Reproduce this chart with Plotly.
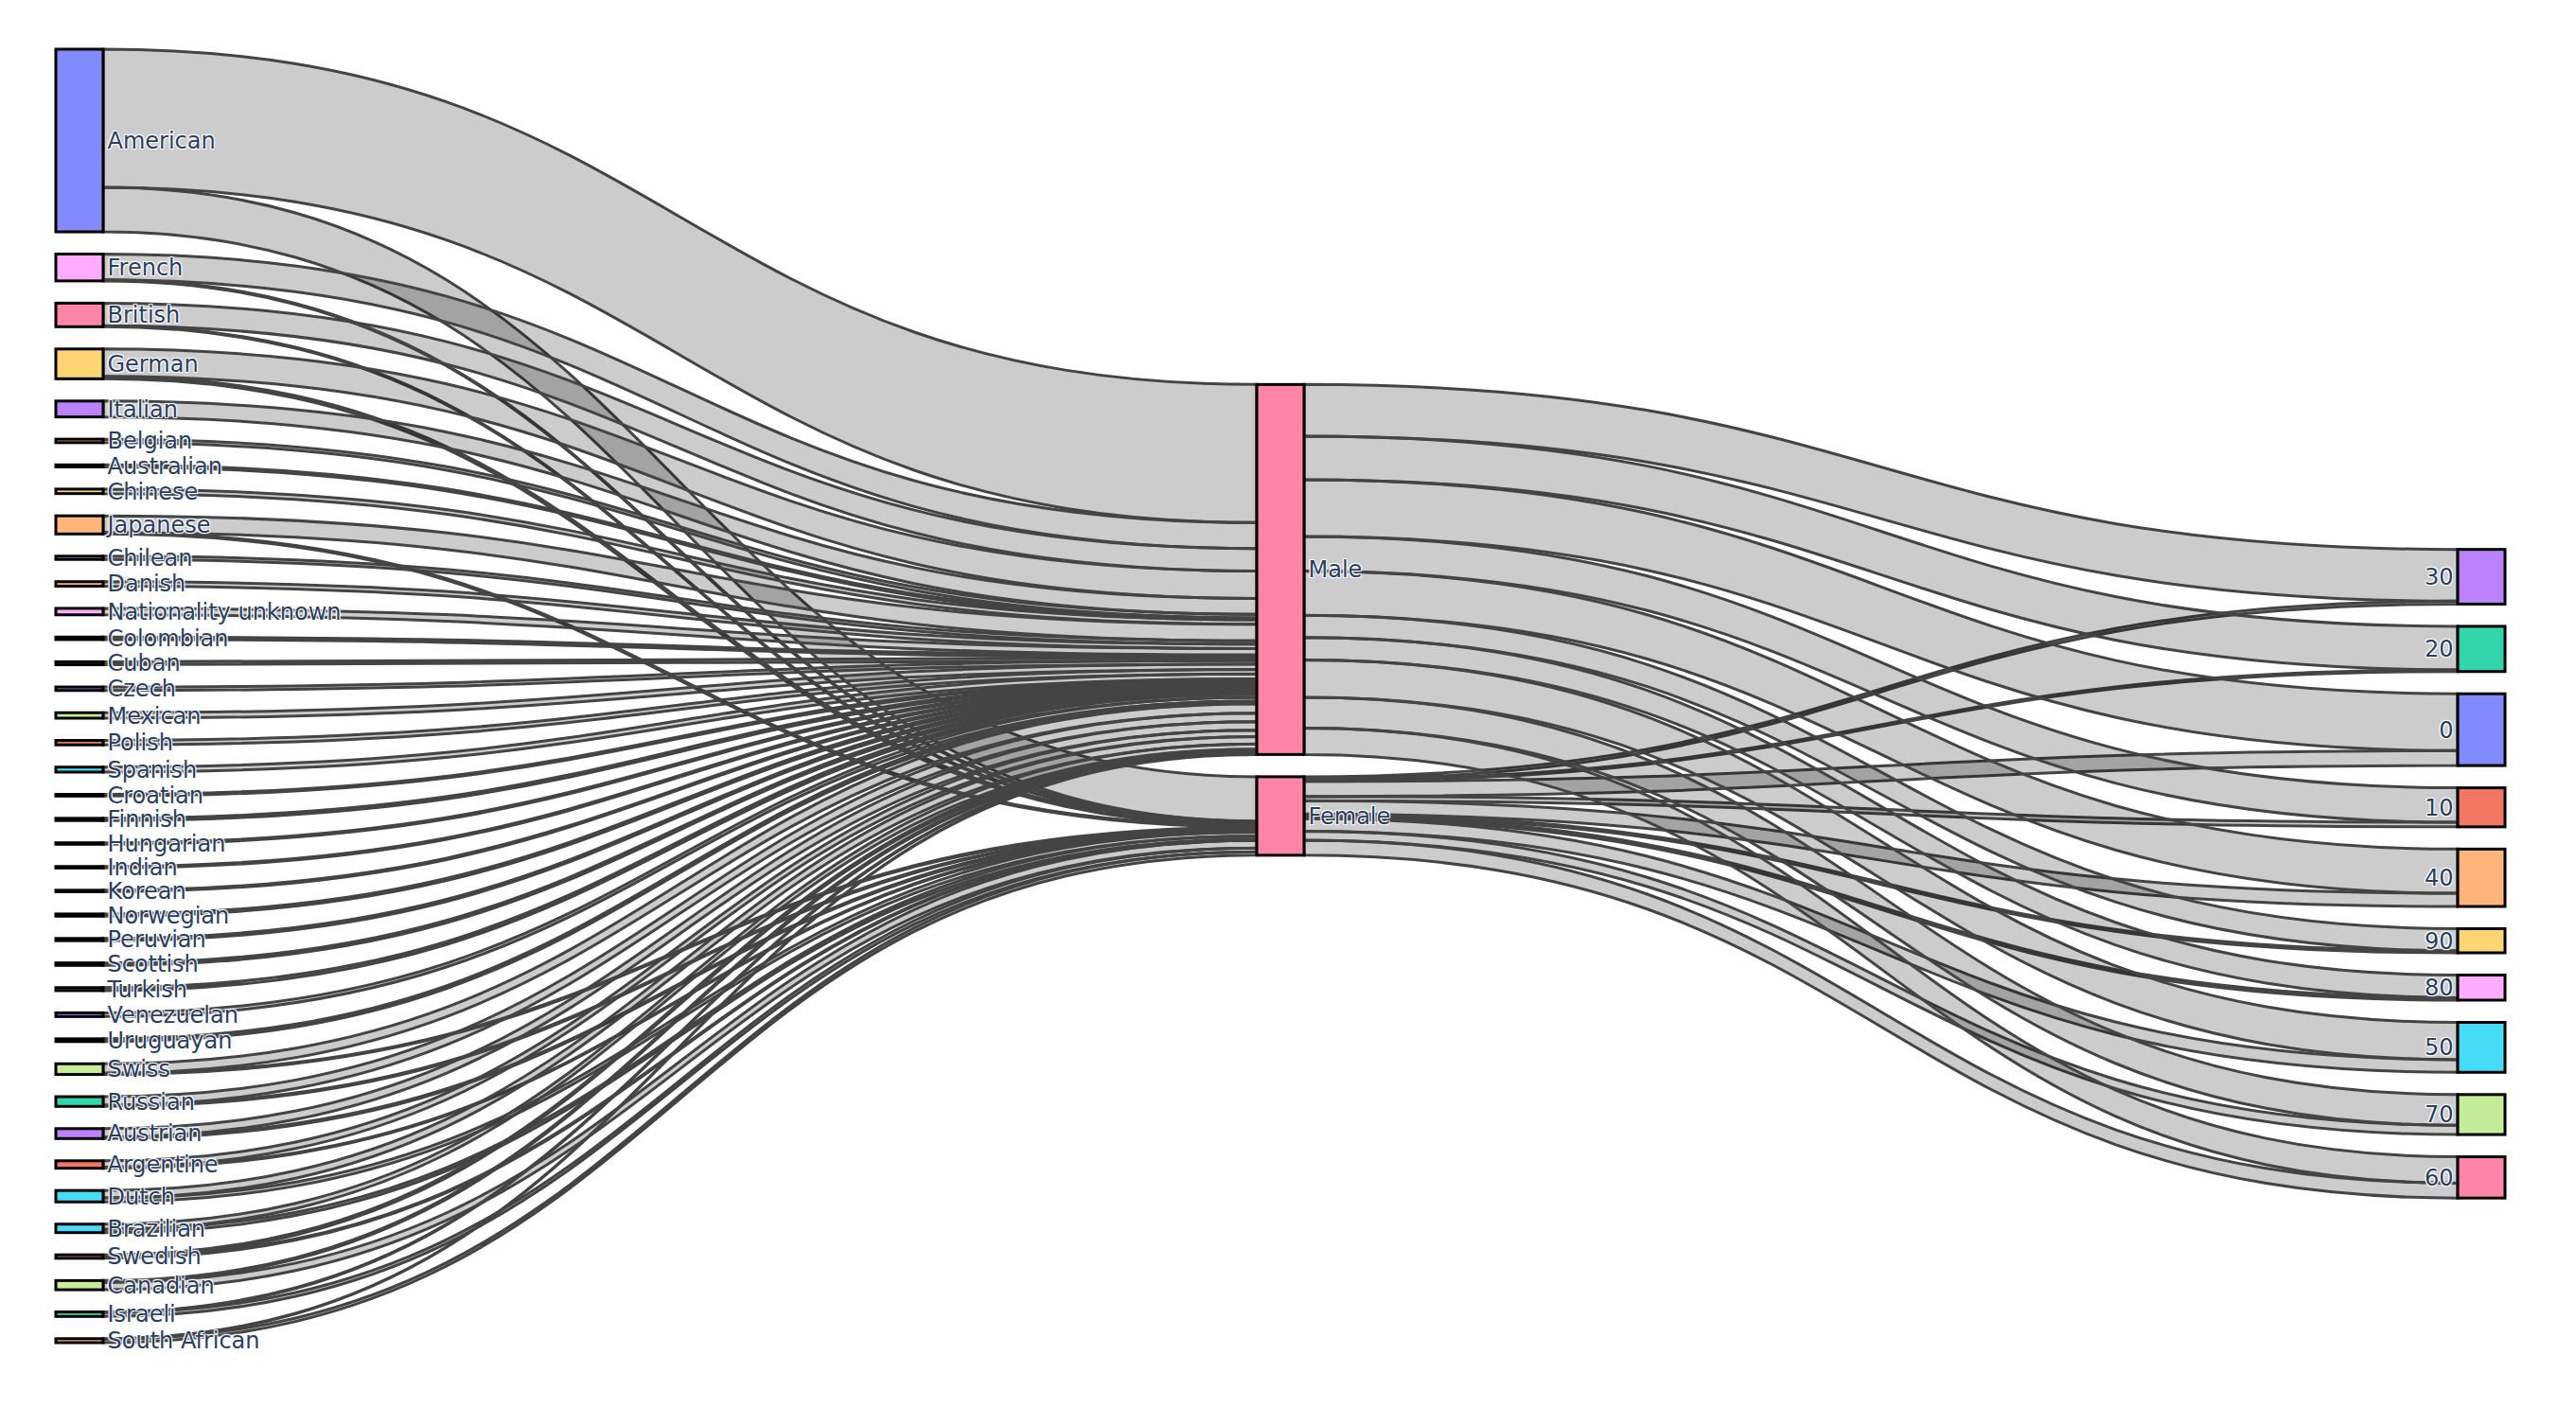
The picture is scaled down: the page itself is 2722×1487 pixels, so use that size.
import plotly.graph_objects as go

# Nationality -> gender flows
nationalities = ["American", "French", "British", "German", "Italian", "Belgian", "Australian",
                 "Chinese", "Chilean", "Japanese", "Danish", "Nationality unknown", "Colombian",
                 "Cuban", "Czech", "Mexican", "Polish", "Spanish", "Croatian", "Finnish",
                 "Hungarian", "Indian", "Korean", "Norwegian", "Peruvian", "Scottish", "Turkish",
                 "Venezuelan", "Uruguayan", "Swiss", "Dutch", "Russian", "Austrian", "Argentine",
                 "Canadian", "Brazilian", "Swedish", "Israeli", "South African"]
male_by_nat = [55.6, 10.4, 9.1, 11, 6.4, 1.4, 0.8, 1.8, 1.3, 6.7, 1.8, 2.6, 1, 1.2, 1.4,
               2.2, 1.8, 2, 0.7, 0.9, 0.6, 0.6, 0.6, 0.9, 0.9, 1, 1.2, 1.5, 1.1,
               3.8, 3, 3.4, 3.4, 2.6, 0.7, 2.1, 0.9, 0.3, 0.2]
female_by_nat = [17.9, 0.4, 0.4, 1, 0, 0, 0, 0, 0, 0.6, 0, 0, 0, 0, 0,
                 0, 0, 0, 0, 0, 0, 0, 0, 0, 0, 0, 0, 0, 0,
                 0.5, 1.6, 0.5, 0.6, 0.4, 3, 1.3, 0.5, 1.5, 1.4]

# Gender -> age (decade) flows
ages = ["0", "10", "20", "30", "40", "50", "60", "70", "80", "90"]
male_by_age = [22.9, 13.9, 17.5, 20.8, 17.8, 15, 10.6, 12.4, 9.1, 8.9]
female_by_age = [6, 1.8, 0.7, 1.2, 5.3, 5.1, 6, 3.7, 1, 0.8]

genders = ["Female", "Male"]

labels = sorted(set(nationalities) | set(genders) | set(ages))
idx = {lab: i for i, lab in enumerate(labels)}

male_map = dict(zip(nationalities, male_by_nat))
female_map = dict(zip(nationalities, female_by_nat))

src, tgt, val = [], [], []
for n in sorted(nationalities):
    for g, mp in (("Female", female_map), ("Male", male_map)):
        if mp[n] > 0:
            src.append(idx[n]); tgt.append(idx[g]); val.append(mp[n])
for g, counts in (("Female", female_by_age), ("Male", male_by_age)):
    for a, c in zip(ages, counts):
        if c > 0:
            src.append(idx[g]); tgt.append(idx[a]); val.append(c)

fig = go.Figure(go.Sankey(
    node=dict(label=labels, pad=23.5, thickness=50,
              line=dict(color="black", width=3)),
    link=dict(source=src, target=tgt, value=val,
              line=dict(color="#444", width=3)),
    textfont=dict(family="DejaVu Sans", size=24, color="#2a3f5f"),
))
fig.update_layout(margin=dict(l=51, r=67, t=44, b=60), paper_bgcolor="white")
fig.write_html("out.html")
